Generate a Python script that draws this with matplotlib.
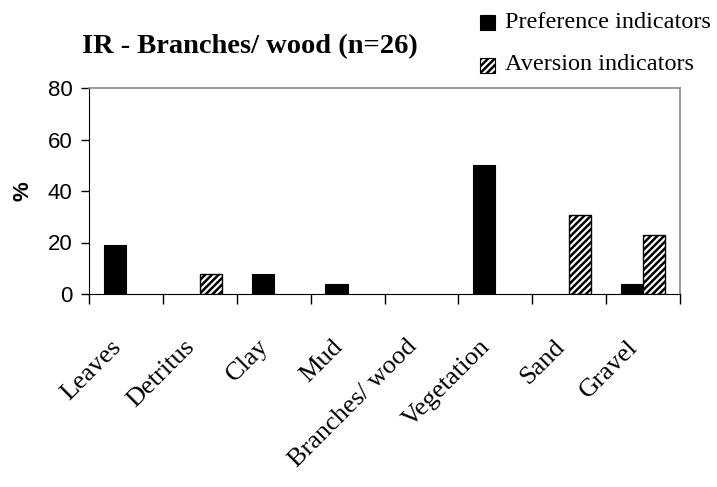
import numpy as np
import matplotlib.pyplot as plt
from matplotlib.patches import Rectangle
from matplotlib.transforms import ScaledTranslation

# datos (% de n=26)
categories = ['Leaves', 'Detritus', 'Clay', 'Mud', 'Branches/ wood',
              'Vegetation', 'Sand', 'Gravel']
preference = [19.2, 0, 7.7, 3.8, 0, 50.0, 0, 3.8]
aversion = [0, 7.7, 0, 0, 0, 0, 30.8, 23.1]
yticks = [0, 20, 40, 60, 80]
series_names = ['Preference indicators', 'Aversion indicators']

W, H = 717, 487
plt.rcParams['hatch.linewidth'] = 1.8

fig = plt.figure(figsize=(W / 100, H / 100), dpi=100)
# area de trazado en pixeles: x 89-680, y 88-294
ax = fig.add_axes([89 / W, 1 - 294 / H, 591 / W, 206 / H])

x = np.arange(len(categories))
w = 0.3
pref = np.array(preference)
aver = np.array(aversion)
# solo las barras con valor (las de 0 no se ven en el original)
mp = pref > 0
ma = aver > 0
ax.bar(x[mp] + 0.35, pref[mp], w, color='black', edgecolor='black',
       linewidth=0.8)
ax.bar(x[ma] + 0.65, aver[ma], w, color='white', edgecolor='black',
       hatch='/////', linewidth=1.0)

ax.set_xlim(0, len(categories))
ax.set_ylim(0, 80)
ax.set_yticks(yticks)
ax.set_yticklabels([str(v) for v in yticks], fontfamily='Liberation Sans',
                   fontsize=16)
ax.set_ylabel('%', fontfamily='Liberation Sans', fontsize=16,
              fontweight='bold', labelpad=10)

# ticks en los limites de cada categoria, etiquetas en el centro
ax.set_xticks(np.arange(len(categories) + 1), minor=True)
ax.set_xticks(x + 0.5)
ax.set_xticklabels(categories, rotation=45, ha='right', va='top',
                   rotation_mode='anchor', fontfamily='Liberation Serif',
                   fontsize=19)
ax.tick_params(axis='x', which='major', length=0, pad=30)
ax.tick_params(axis='x', which='minor', length=7, width=1, direction='out')
ax.tick_params(axis='y', length=6, width=1, direction='out', pad=6)
shift = ScaledTranslation(-16 / 100, 0, fig.dpi_scale_trans)
for lab in ax.get_xticklabels():
    lab.set_transform(lab.get_transform() + shift)

for s in ['left', 'bottom']:
    ax.spines[s].set_color('black')
for s in ['top', 'right']:
    ax.spines[s].set_color('#888888')
    ax.spines[s].set_linewidth(1.2)

fig.text(250 / W, 1 - 47 / H, 'IR - Branches/ wood (n=26)',
         fontfamily='Liberation Serif', fontsize=20.5, fontweight='bold',
         ha='center', va='center')

# leyenda fuera del area de trazado
leg_y = [22, 65]
styles = [dict(facecolor='black', edgecolor='black'),
          dict(facecolor='white', edgecolor='black', hatch='/////')]
for name, yy, st in zip(series_names, leg_y, styles):
    fig.patches.append(Rectangle((480 / W, 1 - (yy + 7.5) / H), 15 / W,
                                 15 / H, transform=fig.transFigure,
                                 linewidth=0.8, **st))
    fig.text(505 / W, 1 - yy / H, name, fontfamily='Liberation Serif',
             fontsize=17.5, ha='left', va='center')

plt.savefig('out.png', dpi=100)
